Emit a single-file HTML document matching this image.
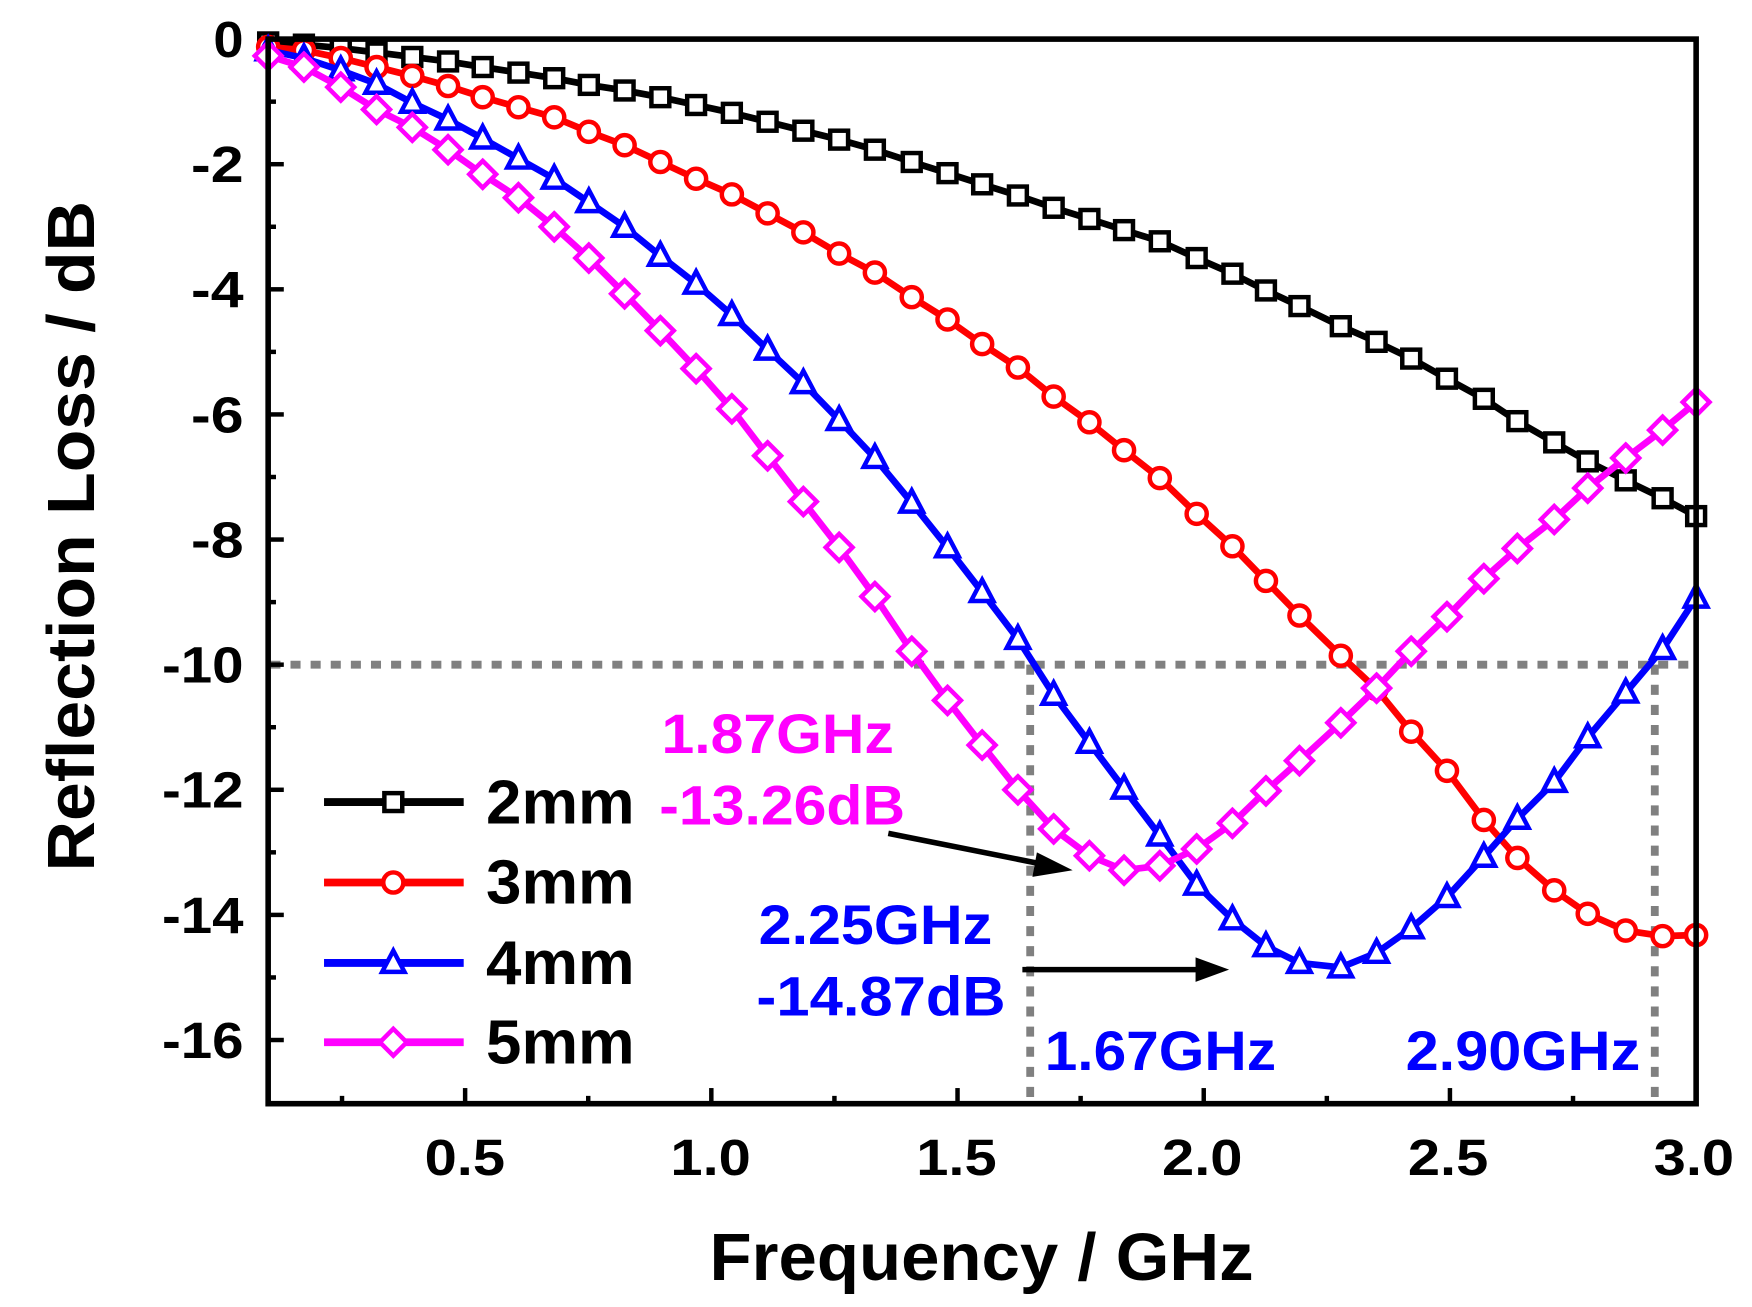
<!DOCTYPE html>
<html><head><meta charset="utf-8"><style>html,body{margin:0;padding:0;background:#fff}svg{display:block}</style></head>
<body>
<svg id="s" width="1752" height="1307" viewBox="0 0 1568 1170" preserveAspectRatio="none" xmlns="http://www.w3.org/2000/svg" font-family="Liberation Sans, Arial, sans-serif" font-weight="bold">
<g stroke="#808080" stroke-width="7" stroke-dasharray="9,9" fill="none">
<line x1="242" y1="595" x2="1516" y2="595"/>
<line x1="922" y1="595" x2="922" y2="986"/>
<line x1="1481" y1="595" x2="1481" y2="986"/>
</g>
<g id="series"></g>
<rect x="240" y="35" width="1278" height="953" fill="none" stroke="#000" stroke-width="5"/>
<g id="ticks" stroke="#000" stroke-width="4"></g>
<g font-size="46" text-anchor="end" fill="#000">
<text x="218" y="51" textLength="27" lengthAdjust="spacingAndGlyphs">0</text>
<text x="218" y="163" textLength="47" lengthAdjust="spacingAndGlyphs">-2</text>
<text x="218" y="275" textLength="47" lengthAdjust="spacingAndGlyphs">-4</text>
<text x="218" y="387" textLength="47" lengthAdjust="spacingAndGlyphs">-6</text>
<text x="218" y="499" textLength="47" lengthAdjust="spacingAndGlyphs">-8</text>
<text x="218" y="611" textLength="73" lengthAdjust="spacingAndGlyphs">-10</text>
<text x="218" y="723" textLength="73" lengthAdjust="spacingAndGlyphs">-12</text>
<text x="218" y="835" textLength="73" lengthAdjust="spacingAndGlyphs">-14</text>
<text x="218" y="947" textLength="73" lengthAdjust="spacingAndGlyphs">-16</text>
</g>
<g font-size="46" text-anchor="middle" fill="#000">
<text x="416" y="1052" textLength="72" lengthAdjust="spacingAndGlyphs">0.5</text>
<text x="636" y="1052" textLength="72" lengthAdjust="spacingAndGlyphs">1.0</text>
<text x="856" y="1052" textLength="72" lengthAdjust="spacingAndGlyphs">1.5</text>
<text x="1076" y="1052" textLength="72" lengthAdjust="spacingAndGlyphs">2.0</text>
<text x="1296" y="1052" textLength="72" lengthAdjust="spacingAndGlyphs">2.5</text>
<text x="1516" y="1052" textLength="72" lengthAdjust="spacingAndGlyphs">3.0</text>
</g>
<text x="635" y="1146" font-size="60" textLength="487" lengthAdjust="spacingAndGlyphs">Frequency / GHz</text>
<text transform="translate(84,480) rotate(-90)" font-size="60" text-anchor="middle" textLength="600" lengthAdjust="spacingAndGlyphs">Reflection Loss / dB</text>
<g id="legend"></g>
<g font-size="50">
<text x="592" y="674" fill="#ff00ff" textLength="208" lengthAdjust="spacingAndGlyphs">1.87GHz</text>
<text x="590" y="738" fill="#ff00ff" textLength="220" lengthAdjust="spacingAndGlyphs">-13.26dB</text>
<text x="679" y="845" fill="#0000ff" textLength="209" lengthAdjust="spacingAndGlyphs">2.25GHz</text>
<text x="677" y="909" fill="#0000ff" textLength="223" lengthAdjust="spacingAndGlyphs">-14.87dB</text>
<text x="935" y="958" fill="#0000ff" textLength="207" lengthAdjust="spacingAndGlyphs">1.67GHz</text>
<text x="1258" y="958" fill="#0000ff" textLength="210" lengthAdjust="spacingAndGlyphs">2.90GHz</text>
</g>
<g stroke="#000" stroke-width="5" fill="#000">
<line x1="795" y1="746" x2="935" y2="774"/>
<polygon points="960,779 928,763 924,785" stroke="none"/>
<line x1="915" y1="868" x2="1075" y2="868"/>
<polygon points="1100,868 1070,857 1070,879" stroke="none"/>
</g>
</svg>
<script>
var NS="http://www.w3.org/2000/svg";
var X=[240,272,305,337,369,401,432,464,496,527,559,591,623,655,687,719,751,783,816,848,879,911,943,975,1006,1038,1071,1103,1133,1163,1200,1232,1263,1295,1328,1358,1391,1421,1455,1488,1518];
var D={
k:[38,40,43,47,51,55,60,65,70,76,81,87,94,101,109,117,125,134,145,155,165,175,186,196,206,216,231,245,260,274,292,306,321,339,357,377,396,413,430,446,462],
r:[42,45,52,60,68,77,87,96,105,118,130,145,160,174,191,208,227,244,266,286,308,329,355,378,403,428,460,489,520,551,587,617,655,690,734,768,797,818,833,838,837],
b:[45,52,63,75,92,107,124,142,160,181,203,229,254,282,313,343,376,410,450,490,530,572,622,665,706,748,792,823,847,862,866,853,831,803,767,733,700,660,620,581,535],
m:[50,60,78,98,114,134,156,177,203,231,263,296,330,366,408,449,490,534,583,627,667,707,742,766,779,775,760,737,708,681,647,616,583,552,518,491,465,437,410,385,360]};
var C={k:"#000",r:"#ff0000",b:"#0000ff",m:"#ff00ff"};
function el(n,a,p){var e=document.createElementNS(NS,n);for(var k in a)e.setAttribute(k,a[k]);p.appendChild(e);return e;}
function marker(t,x,y,p){var c=C[t],st={fill:"#fff",stroke:c,"stroke-width":4};
 if(t=="k"){st.x=x-8;st.y=y-8;st.width=16;st.height=16;el("rect",st,p);}
 else if(t=="r"){st.cx=x;st.cy=y;st.r=9;el("circle",st,p);}
 else if(t=="b"){st.points=(x)+","+(y-11)+" "+(x+10)+","+(y+8)+" "+(x-10)+","+(y+8);el("polygon",st,p);}
 else {st.points=(x)+","+(y-12)+" "+(x+12)+","+y+" "+(x)+","+(y+12)+" "+(x-12)+","+y;el("polygon",st,p);}}
var S=document.getElementById("series");
["k","r","b","m"].forEach(function(t){
 var pts=X.map(function(x,i){return x+","+D[t][i];}).join(" ");
 el("polyline",{points:pts,fill:"none",stroke:C[t],"stroke-width":6,"stroke-linejoin":"round"},S);
 X.forEach(function(x,i){marker(t,x,D[t][i],S);});
});
var T=document.getElementById("ticks");
for(var v=0;v<=17;v++){var y=35+v*56;var L=(v%2==0)?14:7;if(v>0&&v<17)el("line",{x1:240,y1:y,x2:240+L,y2:y},T);}
for(var f=0.25;f<=2.9;f+=0.25){var x=240+(f-0.1)/2.9*1278;var maj=Math.abs(f*2-Math.round(f*2))<0.01;el("line",{x1:x,y1:988,x2:x,y2:988-(maj?14:7)},T);}
var Lg=document.getElementById("legend");
[["k","2mm",718],["r","3mm",790],["b","4mm",862],["m","5mm",933]].forEach(function(a){
 el("line",{x1:290,y1:a[2],x2:415,y2:a[2],stroke:C[a[0]],"stroke-width":7},Lg);
 marker(a[0],352,a[2],Lg);
 var t=el("text",{x:435,y:a[2]+19,"font-size":56,fill:"#000",textLength:133,lengthAdjust:"spacingAndGlyphs"},Lg);t.textContent=a[1];});
</script>
</body></html>
